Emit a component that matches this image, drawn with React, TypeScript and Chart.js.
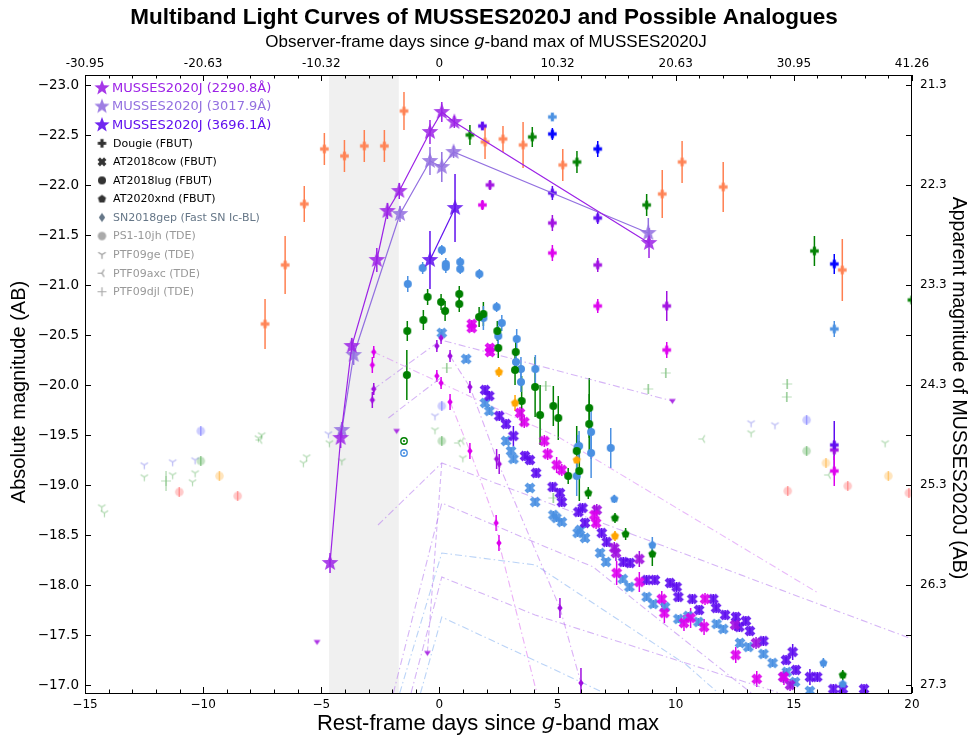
import React, { useEffect, useRef } from 'react';
import { Chart, registerables } from 'chart.js';
Chart.register(...registerables);

type P = number[];

// ---------- axes ----------
const X_MIN = -15, X_MAX = 20;
const Y_MIN = -23.1, Y_MAX = -16.92;
const OBS_FACTOR = 2.0632;
const DIST_MOD = 44.3;
const SHADE = [-4.67, -1.72];
const TOP_LABELS: Record<string, string> = { '-15': '-30.95', '-10': '-20.63', '-5': '-10.32', '0': '0', '5': '10.32', '10': '20.63', '15': '30.95', '20': '41.26' };

// ---------- MUSSES2020J ----------
const mUV1: P[] = [[-4.63, -18.22, 0.1], [-4.18, -19.47, 0.1], [-3.71, -20.39, 0.08], [-2.65, -21.25, 0.12], [-2.20, -21.74, 0.08], [-1.70, -21.94, 0.08], [-0.40, -22.53, 0.12], [0.10, -22.73, 0.1], [0.63, -22.63, 0.06], [8.87, -21.42, 0.15]];
const mUV2: P[] = [[-4.13, -19.55, 0.08], [-3.63, -20.30, 0.1], [-1.67, -21.71, 0.08], [-0.40, -22.24, 0.14], [0.10, -22.18, 0.15], [0.60, -22.33, 0.06], [8.84, -21.52, 0.15]];
const mU: P[] = [[-0.40, -21.25, 0.29], [0.66, -21.77, 0.34]];

// ---------- Dougie ----------
const dougieCoral: P[] = [[-7.38, -20.61, 0.25], [-6.53, -21.20, 0.29], [-5.72, -21.81, 0.18], [-4.87, -22.36, 0.16], [-4.02, -22.29, 0.16], [-3.18, -22.39, 0.16], [-2.33, -22.39, 0.16], [-1.50, -22.74, 0.19], [1.93, -22.43, 0.17], [2.69, -22.46, 0.13], [3.54, -22.40, 0.23], [5.22, -22.20, 0.16], [9.43, -21.91, 0.24], [10.27, -22.23, 0.21], [12.01, -21.98, 0.25], [17.05, -21.15, 0.31]];
const dougieGreen: P[] = [[1.29, -22.50, 0.1], [3.93, -22.48, 0.1], [5.82, -22.23, 0.11], [8.77, -21.80, 0.11], [15.87, -21.34, 0.15], [20.0, -20.85, 0.08]];
const dougieBlue: P[] = [[4.78, -22.51, 0.06], [6.70, -22.36, 0.08], [16.71, -21.21, 0.1]];
const dougieLBlue: P[] = [[4.78, -22.68, 0.04], [16.71, -20.56, 0.08]];
const dougieViolet: P[] = [[1.82, -22.59, 0.04], [4.78, -21.92, 0.07], [6.70, -21.67, 0.06], [16.71, -19.40, 0.24]];
const dougieDViolet: P[] = [[2.14, -22.00, 0.05], [4.78, -21.62, 0.08], [6.70, -21.20, 0.07], [9.62, -20.79, 0.15], [16.71, -19.35, 0.1]];
const dougieMagenta: P[] = [[1.82, -21.80, 0.05], [4.78, -21.32, 0.08], [6.70, -20.79, 0.07], [9.62, -20.35, 0.08], [16.71, -19.14, 0.15]];

// ---------- AT2018cow ----------
const cowLBlue: P[] = [[0.10, -20.52, 0.04], [1.13, -20.26, 0.04], [1.93, -19.82, 0.04], [2.11, -19.74, 0.04], [2.82, -19.44, 0.04], [3.03, -19.34, 0.04], [3.13, -19.26, 0.04], [3.83, -18.97, 0.04], [4.05, -18.83, 0.04], [4.82, -18.70, 0.04], [4.95, -18.67, 0.04], [5.18, -18.63, 0.04], [5.85, -18.52, 0.04], [5.95, -18.55, 0.04], [6.16, -18.47, 0.04], [6.80, -18.32, 0.04], [7.05, -18.23, 0.04], [7.76, -18.06, 0.04], [8.04, -17.98, 0.04], [8.77, -17.88, 0.04], [9.05, -17.81, 0.04], [9.55, -17.78, 0.04], [10.11, -17.66, 0.04], [10.53, -17.69, 0.04], [10.96, -17.63, 0.04], [11.73, -17.61, 0.04], [12.01, -17.56, 0.04], [12.72, -17.42, 0.04], [13.07, -17.38, 0.04], [13.71, -17.31, 0.04], [14.10, -17.22, 0.04], [14.70, -17.13, 0.04], [15.05, -17.03, 0.04], [15.68, -16.94, 0.04]];
const cowViolet: P[] = [[1.93, -19.95, 0.05], [2.11, -19.89, 0.05], [2.53, -19.69, 0.05], [2.82, -19.61, 0.05], [3.13, -19.49, 0.1], [3.62, -19.29, 0.05], [3.83, -19.25, 0.05], [4.09, -19.12, 0.05], [4.79, -18.98, 0.05], [5.10, -18.92, 0.05], [5.18, -18.83, 0.05], [5.88, -18.73, 0.05], [6.06, -18.77, 0.05], [6.16, -18.62, 0.05], [6.87, -18.52, 0.05], [7.08, -18.43, 0.05], [7.78, -18.23, 0.05], [8.07, -18.22, 0.05], [8.77, -18.05, 0.05], [9.12, -18.05, 0.05], [9.76, -18.02, 0.05], [10.04, -17.98, 0.05], [10.11, -17.88, 0.05], [10.70, -17.86, 0.05], [10.99, -17.75, 0.05], [11.59, -17.86, 0.05], [11.71, -17.77, 0.05], [12.09, -17.70, 0.05], [12.55, -17.68, 0.05], [12.69, -17.58, 0.05], [12.97, -17.64, 0.05], [13.14, -17.54, 0.05], [13.71, -17.44, 0.05], [14.67, -17.25, 0.05], [14.95, -17.33, 0.08], [15.09, -17.15, 0.05], [15.68, -17.08, 0.08], [15.99, -17.08, 0.05], [16.67, -16.96, 0.05], [17.07, -16.96, 0.05], [17.97, -16.96, 0.05]];
const cowMagenta: P[] = [[1.37, -20.61, 0.04], [1.37, -20.57, 0.04], [2.14, -20.37, 0.04], [2.14, -20.33, 0.04], [3.41, -19.72, 0.06], [3.59, -19.63, 0.06], [4.44, -19.44, 0.06], [4.58, -19.31, 0.06], [4.96, -19.20, 0.08], [5.18, -19.15, 0.06], [6.56, -18.70, 0.1], [6.63, -18.62, 0.06], [7.50, -18.12, 0.12], [8.46, -18.03, 0.1], [9.41, -17.86, 0.08], [9.52, -17.72, 0.1], [10.35, -17.62, 0.08], [10.63, -17.67, 0.1], [11.20, -17.58, 0.08], [11.24, -17.86, 0.06], [12.54, -17.30, 0.08], [13.43, -17.06, 0.08], [14.58, -17.08, 0.08]];
const cowDViolet: P[] = [[6.66, -18.75, 0.06], [7.40, -18.37, 0.06], [7.47, -18.32, 0.08], [8.46, -18.26, 0.08], [12.51, -17.60, 0.06], [13.40, -17.42, 0.06], [14.55, -17.08, 0.06], [14.84, -17.00, 0.06]];

// ---------- AT2018lug ----------
const lugLBlue: P[] = [[-1.34, -21.01, 0.08], [-0.71, -21.17, 0.06], [0.10, -21.35, 0.05], [0.27, -21.21, 0.06], [0.27, -21.18, 0.06], [0.88, -21.23, 0.05], [0.88, -21.16, 0.05], [1.69, -21.11, 0.05], [2.42, -20.78, 0.05], [2.64, -20.62, 0.08], [2.49, -20.49, 0.1], [1.86, -20.67, 0.12], [3.27, -20.46, 0.1], [3.24, -20.23, 0.08], [3.45, -20.16, 0.12], [4.06, -20.16, 0.14], [3.45, -20.03, 0.1], [6.42, -19.53, 0.27], [6.42, -19.32, 0.25], [7.25, -19.37, 0.2], [5.91, -19.39, 0.15], [5.85, -19.38, 0.12], [5.81, -19.09, 0.2]];
const lugGreen: P[] = [[-1.38, -20.10, 0.25], [-1.36, -20.54, 0.1], [-0.68, -20.65, 0.1], [-0.50, -20.88, 0.08], [0.07, -20.83, 0.08], [0.24, -20.74, 0.1], [0.84, -20.91, 0.08], [0.84, -20.81, 0.08], [1.68, -20.68, 0.1], [1.86, -20.71, 0.12], [2.45, -20.54, 0.1], [2.49, -20.37, 0.1], [3.23, -20.33, 0.15], [3.20, -20.15, 0.15], [3.48, -19.84, 0.25], [4.05, -19.98, 0.3], [4.26, -19.70, 0.3], [4.82, -19.79, 0.2], [5.03, -19.67, 0.22], [6.34, -19.77, 0.3], [6.34, -19.61, 0.3], [5.81, -19.34, 0.25], [5.92, -19.14, 0.3], [5.45, -19.09, 0.08]];

// ---------- AT2020xnd ----------
const xndOrange: P[] = [[2.52, -20.13, 0.05], [3.20, -19.82, 0.08], [5.81, -19.25, 0.2], [7.43, -18.49, 0.05]];
const xndLBlue: P[] = [[7.40, -18.86, 0.04], [9.01, -18.40, 0.08], [16.25, -17.22, 0.05], [17.07, -17.01, 0.04]];
const xndGreen: P[] = [[6.30, -18.92, 0.06], [7.43, -18.67, 0.05], [7.88, -18.51, 0.06], [9.01, -18.31, 0.12], [17.07, -17.10, 0.05]];

// ---------- SN2018gep ----------
const gepMagenta: P[] = [[-2.78, -20.33, 0.06], [-2.84, -20.20, 0.08], [0.07, -20.02, 0.06], [-0.11, -20.09, 0.06], [0.45, -19.83, 0.08], [1.29, -19.34, 0.08], [2.40, -18.62, 0.08], [2.52, -18.42, 0.08]];
const gepDViolet: P[] = [[-2.78, -19.96, 0.06], [-2.84, -19.85, 0.08], [-0.11, -20.39, 0.06], [0.07, -20.47, 0.06], [0.45, -20.29, 0.06], [1.29, -19.98, 0.06], [2.42, -19.26, 0.1], [2.53, -19.21, 0.1], [5.10, -17.77, 0.1], [5.99, -17.02, 0.15]];
const gepLimits: P[] = [[-5.18, -17.43], [-1.81, -19.54], [-0.51, -17.32], [9.86, -19.84]];
const openGreen: P[] = [[-1.50, -19.44]];
const openBlue: P[] = [[-1.50, -19.32]];

// ---------- dash-dot curves ----------
const ddL1: P[] = [[-2.78, -19.96], [0.07, -20.45], [9.86, -19.84]];
const ddL2: P[] = [[-2.78, -20.33], [5.11, -19.47], [15.96, -17.93]];
const ddL3: P[] = [[-2.16, -19.67], [0.05, -20.07]];
const ddD1: P[] = [[-2.6, -18.6], [0.1, -19.22], [20.0, -17.46]];
const ddD6: P[] = [[0.1, -19.22], [-0.51, -17.32]];
const ddD2: P[] = [[-1.95, -16.92], [0.1, -18.82], [6.51, -18.18], [8.77, -17.75], [13.2, -16.92]];
const ddD3: P[] = [[-1.68, -16.92], [0.1, -18.32], [4.07, -18.2], [10.46, -17.2], [11.8, -16.92]];
const ddD4: P[] = [[-1.2, -16.92], [0.1, -18.08], [4.05, -17.70], [14.4, -16.92]];
const ddD5: P[] = [[-0.8, -16.92], [0.1, -17.68], [6.8, -16.94]];
const ddM1: P[] = [[0.45, -19.83], [1.29, -19.34], [2.40, -18.62], [2.52, -18.42], [4.12, -16.92]];
const ddM3: P[] = [[0.45, -20.29], [1.29, -19.98], [2.47, -19.23], [5.10, -17.77], [5.99, -17.02]];

// ---------- TDEs ----------
const ps1Blue: P[] = [[-10.10, -19.54, 0.05], [0.10, -19.79, 0.05], [15.54, -19.65, 0.05]];
const ps1Green: P[] = [[-10.10, -19.24, 0.05], [0.10, -19.44, 0.05], [15.54, -19.34, 0.05]];
const ps1Orange: P[] = [[-9.31, -19.09, 0.05], [16.36, -19.22, 0.05], [19.0, -19.09, 0.05]];
const ps1Red: P[] = [[-11.01, -18.93, 0.05], [-8.54, -18.89, 0.05], [14.74, -18.94, 0.05], [17.28, -18.99, 0.05], [19.87, -18.92, 0.05]];
const ptf09geBlue: P[] = [[-12.49, -19.20], [-11.29, -19.23], [-10.34, -19.25], [-4.70, -19.51], [-0.19, -19.69], [13.19, -19.62], [14.20, -19.60]];
const ptf09geGreen: P[] = [[-14.29, -18.78], [-14.18, -18.72], [-12.49, -19.08], [-11.29, -19.10], [-10.34, -19.12], [-10.45, -19.03], [-7.66, -19.47], [-7.52, -19.50], [-5.76, -19.22], [-5.62, -19.28], [-4.66, -19.42], [-4.13, -19.24], [-0.19, -19.55], [0.99, -19.27], [13.19, -19.52], [18.86, -19.42]];
const ptf09axc: P[] = [[-7.6, -19.45], [0.80, -19.42], [0.95, -19.44], [11.14, -19.46], [16.46, -19.10]];
const ptf09djl: P[] = [[-11.57, -19.04, 0.1], [0.31, -20.17, 0.05], [4.50, -19.99, 0.05], [4.82, -18.87, 0.05], [8.84, -19.96, 0.05], [9.58, -20.12, 0.05], [14.72, -20.01, 0.05], [14.70, -19.88, 0.05]];

// ---------- legend ----------
const LEG_MUSSES = ['MUSSES2020J (2290.8Å)', 'MUSSES2020J (3017.9Å)', 'MUSSES2020J (3696.1Å)'];
const LEG_OTHERS = ['Dougie (FBUT)', 'AT2018cow (FBUT)', 'AT2018lug (FBUT)', 'AT2020xnd (FBUT)', 'SN2018gep (Fast SN Ic-BL)', 'PS1-10jh (TDE)', 'PTF09ge (TDE)', 'PTF09axc (TDE)', 'PTF09djl (TDE)'];

// ---------- colours ----------
const C_UV1 = '#9c22e6';
const C_UV2 = '#9370e0';
const C_U = '#6010ee';
const C_CORAL = '#ff7f50';
const C_GREEN = '#008000';
const C_BLUE = '#0000ff';
const C_LBLUE = '#4a90e2';
const C_VIOLET = '#5e0cf0';
const C_DVIOLET = '#a010e0';
const C_MAGENTA = '#dd00ee';
const C_ORANGE = '#ffa500';

const SANS = '"Liberation Sans", Arial, sans-serif';
const DJ = '"DejaVu Sans", sans-serif';

function makeMarker(shape: string, color: string, r: number, alpha = 1): HTMLCanvasElement {
  const s = Math.ceil(2 * r + 4);
  const c = document.createElement('canvas');
  c.width = s; c.height = s;
  const g = c.getContext('2d') as CanvasRenderingContext2D;
  g.translate(s / 2, s / 2);
  g.globalAlpha = alpha;
  g.fillStyle = color; g.strokeStyle = color; g.lineWidth = 1;
  const poly = (pts: number[][]) => {
    g.beginPath();
    pts.forEach((p, i) => (i ? g.lineTo(p[0], p[1]) : g.moveTo(p[0], p[1])));
    g.closePath(); g.fill();
  };
  const rays = (pts: number[][], lw = 1.2) => {
    g.lineWidth = lw; g.beginPath();
    pts.forEach((p) => { g.moveTo(0, 0); g.lineTo(p[0], p[1]); });
    g.stroke();
  };
  if (shape === 'star') {
    const pts: number[][] = [];
    for (let i = 0; i < 10; i++) {
      const a = -Math.PI / 2 + (i * Math.PI) / 5;
      const rr = i % 2 ? r * 0.42 : r;
      pts.push([rr * Math.cos(a), rr * Math.sin(a)]);
    }
    poly(pts);
  } else if (shape === 'plus' || shape === 'x') {
    if (shape === 'x') g.rotate(Math.PI / 4);
    const a = r * 0.38;
    poly([[-a, -r], [a, -r], [a, -a], [r, -a], [r, a], [a, a], [a, r], [-a, r], [-a, a], [-r, a], [-r, -a], [-a, -a]]);
  } else if (shape === 'circle') {
    g.beginPath(); g.arc(0, 0, r, 0, Math.PI * 2); g.fill();
  } else if (shape === 'pentagon') {
    const pts: number[][] = [];
    for (let i = 0; i < 5; i++) {
      const a = -Math.PI / 2 + (i * 2 * Math.PI) / 5;
      pts.push([r * Math.cos(a), r * Math.sin(a)]);
    }
    poly(pts);
  } else if (shape === 'diamond') {
    poly([[0, -r], [r * 0.7, 0], [0, r], [-r * 0.7, 0]]);
  } else if (shape === 'vtri') {
    poly([[-r, -r * 0.6], [r, -r * 0.6], [0, r * 0.9]]);
  } else if (shape === 'tridown') {
    rays([[0, r], [-r * 0.866, -r * 0.5], [r * 0.866, -r * 0.5]]);
  } else if (shape === 'trileft') {
    rays([[-r, 0], [r * 0.5, -r * 0.866], [r * 0.5, r * 0.866]]);
  } else if (shape === 'plusthin') {
    rays([[r, 0], [-r, 0], [0, r], [0, -r]]);
  } else if (shape === 'circledot') {
    g.lineWidth = 1.4; g.beginPath(); g.arc(0, 0, r - 0.8, 0, Math.PI * 2); g.stroke();
    g.beginPath(); g.arc(0, 0, r * 0.28, 0, Math.PI * 2); g.fill();
  }
  return c;
}

const pts = (a: P[]) => a.map((p) => ({ x: p[0], y: p[1] }));
const errs = (a: P[]) => a.map((p) => (p.length > 2 ? p[2] : 0));

function mds(arr: P[], shape: string, color: string, r: number, alpha = 1, errColor?: string): any {
  return {
    data: pts(arr), errs: errs(arr), errColor: errColor || color,
    pointStyle: makeMarker(shape, color, r, alpha), pointRadius: r, showLine: false,
  };
}
function starDs(arr: P[], color: string): any {
  return {
    data: pts(arr), errs: errs(arr), errColor: color,
    pointStyle: makeMarker('star', color, 8.8, 0.85), pointRadius: 8,
    showLine: true, borderColor: color, borderWidth: 1.2, tension: 0,
  };
}
function ddDs(arr: P[], color: string, dash: number[] = [7, 3, 1.5, 3]): any {
  return { data: pts(arr), showLine: true, borderColor: color, borderWidth: 1.1, borderDash: dash, pointRadius: 0, tension: 0 };
}

function drawRuns(ctx: CanvasRenderingContext2D, runs: [string, string][], cx: number, cy: number, rot = 0) {
  ctx.save();
  ctx.translate(cx, cy); ctx.rotate(rot);
  let total = 0;
  runs.forEach(([t, f]) => { ctx.font = f; total += ctx.measureText(t).width; });
  let x = -total / 2;
  ctx.textBaseline = 'middle'; ctx.textAlign = 'left'; ctx.fillStyle = '#000';
  runs.forEach(([t, f]) => { ctx.font = f; ctx.fillText(t, x, 0); x += ctx.measureText(t).width; });
  ctx.restore();
}

function buildDecor(legendMarkers: { mk: HTMLCanvasElement; color: string; text: string; font: string; y: number; tx: number }[]) {
  return {
    id: 'decor',
    beforeDatasetsDraw(chart: any) {
      const { ctx, chartArea: a, scales } = chart;
      const xs = scales.x, ys = scales.y;
      ctx.save();
      ctx.beginPath(); ctx.rect(a.left, a.top, a.right - a.left, a.bottom - a.top); ctx.clip();
      const x0 = xs.getPixelForValue(SHADE[0]), x1 = xs.getPixelForValue(SHADE[1]);
      ctx.fillStyle = '#f0f0f0';
      ctx.fillRect(x0, a.top, x1 - x0, a.bottom - a.top);
      chart.data.datasets.forEach((ds: any) => {
        const e = ds.errs; if (!e) return;
        ctx.strokeStyle = ds.errColor; ctx.lineWidth = 1.5;
        ds.data.forEach((p: any, j: number) => {
          if (!e[j]) return;
          const px = xs.getPixelForValue(p.x);
          ctx.beginPath();
          ctx.moveTo(px, ys.getPixelForValue(p.y - e[j]));
          ctx.lineTo(px, ys.getPixelForValue(p.y + e[j]));
          ctx.stroke();
        });
      });
      ctx.restore();
    },
    afterDraw(chart: any) {
      const { ctx, chartArea: a, scales } = chart;
      const xs = scales.x, ys = scales.y;
      ctx.save();
      ctx.strokeStyle = '#000'; ctx.lineWidth = 1;
      ctx.strokeRect(a.left + 0.5, a.top + 0.5, a.right - a.left - 1, a.bottom - a.top);
      ctx.beginPath();
      for (let v = X_MIN; v <= X_MAX; v += 1) {
        const px = Math.round(xs.getPixelForValue(v)) + 0.5;
        const len = v % 5 === 0 ? 6 : 3.5;
        ctx.moveTo(px, a.bottom); ctx.lineTo(px, a.bottom - len);
        ctx.moveTo(px, a.top); ctx.lineTo(px, a.top + len);
      }
      for (let v = -23; v <= -17 + 1e-9; v += 0.5) {
        const py = Math.round(ys.getPixelForValue(v)) + 0.5;
        ctx.moveTo(a.left, py); ctx.lineTo(a.left + 6, py);
        ctx.moveTo(a.right, py); ctx.lineTo(a.right - 6, py);
      }
      ctx.stroke();

      // legend
      legendMarkers.forEach((L) => {
        ctx.drawImage(L.mk, 102 - L.mk.width / 2, L.y - L.mk.height / 2);
        ctx.font = L.font; ctx.fillStyle = L.color; ctx.textAlign = 'left'; ctx.textBaseline = 'middle';
        ctx.fillText(L.text, L.tx, L.y + 0.5);
      });

      // titles
      ctx.fillStyle = '#000'; ctx.textAlign = 'center'; ctx.textBaseline = 'middle';
      ctx.font = `bold 22.5px ${SANS}`;
      ctx.fillText('Multiband Light Curves of MUSSES2020J and Possible Analogues', 484, 18);
      drawRuns(ctx, [['Observer-frame days since ', `17px ${SANS}`], ['g', `italic 16.5px ${DJ}`], ['-band max of MUSSES2020J', `17px ${SANS}`]], 486, 42);
      drawRuns(ctx, [['Rest-frame days since ', `22px ${SANS}`], ['g', `italic 21px ${DJ}`], ['-band max', `22px ${SANS}`]], 488, 724);
      drawRuns(ctx, [['Absolute magnitude (AB)', `20px ${SANS}`]], 19, 392, -Math.PI / 2);
      drawRuns(ctx, [['Apparent magnitude of MUSSES2020J (AB)', `19.5px ${SANS}`]], 958, 388, Math.PI / 2);
      ctx.restore();
    },
  };
}

export default function App() {
  const ref = useRef<HTMLCanvasElement>(null);
  useEffect(() => {
    if (!ref.current) return;
    const tdeA = 0.3;
    const ddV = 'rgba(185,130,240,0.6)';
    const ddB = 'rgba(130,175,240,0.55)';
    const datasets: any[] = [
      starDs(mUV1, C_UV1),
      starDs(mUV2, C_UV2),
      starDs(mU, C_U),
      mds(gepMagenta, 'diamond', C_MAGENTA, 3.8),
      mds(gepDViolet, 'diamond', C_DVIOLET, 3.8),
      mds(gepLimits, 'vtri', C_DVIOLET, 3.4, 0.85),
      mds(openGreen, 'circledot', C_GREEN, 4),
      mds(openBlue, 'circledot', C_LBLUE, 4),
      mds(dougieCoral, 'plus', C_CORAL, 4.3, 0.9),
      mds(dougieGreen, 'plus', C_GREEN, 4.3, 0.95),
      mds(dougieBlue, 'plus', C_BLUE, 4.3, 0.95),
      mds(dougieLBlue, 'plus', C_LBLUE, 4.3, 0.95),
      mds(dougieViolet, 'plus', C_VIOLET, 4.3, 0.95),
      mds(dougieDViolet, 'plus', C_DVIOLET, 4.3, 0.95),
      mds(dougieMagenta, 'plus', C_MAGENTA, 4.3, 0.95),
      mds(xndOrange, 'pentagon', C_ORANGE, 4.3),
      mds(xndGreen, 'pentagon', C_GREEN, 4.3),
      mds(xndLBlue, 'pentagon', C_LBLUE, 4.3),
      mds(lugGreen, 'circle', C_GREEN, 4),
      mds(lugLBlue, 'circle', C_LBLUE, 4),
      mds(cowMagenta, 'x', C_MAGENTA, 5.6, 0.9),
      mds(cowDViolet, 'x', C_DVIOLET, 5.6, 0.9),
      mds(cowViolet, 'x', C_VIOLET, 5.6, 0.9),
      mds(cowLBlue, 'x', C_LBLUE, 5.6, 0.9),
      ddDs(ddM1, 'rgba(220,110,240,0.55)'),
      ddDs(ddM3, 'rgba(190,110,240,0.55)'),
      ddDs(ddL1, ddV),
      ddDs(ddL2, 'rgba(215,130,245,0.55)'),
      ddDs(ddL3, ddV),
      ddDs(ddD1, ddV),
      ddDs(ddD6, ddV, [5, 3]),
      ddDs(ddD2, ddV),
      ddDs(ddD3, ddB),
      ddDs(ddD4, ddV),
      ddDs(ddD5, ddB),
      mds(ps1Blue, 'circle', 'rgb(90,90,255)', 4.3, tdeA, 'rgba(90,90,255,0.45)'),
      mds(ps1Green, 'circle', 'rgb(60,160,60)', 4.3, tdeA, 'rgba(60,160,60,0.45)'),
      mds(ps1Orange, 'circle', 'rgb(255,170,40)', 4.3, tdeA, 'rgba(255,170,40,0.5)'),
      mds(ps1Red, 'circle', 'rgb(255,80,80)', 4.3, tdeA, 'rgba(255,80,80,0.45)'),
      mds(ptf09geBlue, 'tridown', 'rgb(100,100,230)', 4.3, 0.45),
      mds(ptf09geGreen, 'tridown', 'rgb(60,160,60)', 4.3, 0.4),
      mds(ptf09axc, 'trileft', 'rgb(60,160,60)', 4.3, 0.4),
      mds(ptf09djl, 'plusthin', 'rgb(60,160,60)', 5, 0.35, 'rgba(60,160,60,0.35)'),
    ];

    const legend = [
      { mk: makeMarker('star', C_UV1, 8, 0.9), color: C_UV1, text: LEG_MUSSES[0], font: `13px ${DJ}`, y: 88, tx: 112 },
      { mk: makeMarker('star', C_UV2, 8, 0.9), color: C_UV2, text: LEG_MUSSES[1], font: `13px ${DJ}`, y: 106.5, tx: 112 },
      { mk: makeMarker('star', C_U, 8, 0.9), color: C_U, text: LEG_MUSSES[2], font: `13px ${DJ}`, y: 125, tx: 112 },
    ];
    const otherMk = [
      makeMarker('plus', '#333', 4.2), makeMarker('x', '#333', 4.6), makeMarker('circle', '#333', 4),
      makeMarker('pentagon', '#333', 4.3), makeMarker('diamond', '#667788', 4.6), makeMarker('circle', '#aaaaaa', 4.2),
      makeMarker('tridown', '#999999', 4.3), makeMarker('trileft', '#999999', 4.3), makeMarker('plusthin', '#aaaaaa', 4.5),
    ];
    const otherCol = ['#000', '#000', '#000', '#000', '#667788', '#999', '#999', '#999', '#999'];
    LEG_OTHERS.forEach((t, i) => {
      legend.push({ mk: otherMk[i], color: otherCol[i], text: t, font: `11px ${DJ}`, y: 143.3 + i * 18.55, tx: 113 });
    });

    const tickFont = { family: '"DejaVu Sans", sans-serif', size: 12 };
    const minus = (s: string) => s.replace('-', '\u2212');

    const chart = new Chart(ref.current, {
      type: 'scatter',
      data: { datasets },
      options: {
        responsive: false,
        animation: false,
        events: [],
        layout: { padding: 0 },
        plugins: { legend: { display: false }, tooltip: { enabled: false }, title: { display: false } },
        scales: {
          x: {
            type: 'linear', position: 'bottom', min: X_MIN, max: X_MAX,
            grid: { display: false, drawTicks: false }, border: { display: false },
            ticks: { stepSize: 5, padding: 5, color: '#000', font: tickFont, callback: (v: any) => minus(String(v)) },
            afterFit: (s: any) => { s.height = 49; },
          },
          x2: {
            type: 'linear', position: 'top', min: X_MIN, max: X_MAX,
            grid: { display: false, drawTicks: false }, border: { display: false },
            ticks: { stepSize: 5, padding: 4, color: '#000', font: { family: '"DejaVu Sans", sans-serif', size: 12 }, callback: (v: any) => TOP_LABELS[String(v)] ?? (v * OBS_FACTOR).toFixed(2) },
            afterFit: (s: any) => { s.height = 75; },
          },
          y: {
            type: 'linear', position: 'left', min: Y_MIN, max: Y_MAX, reverse: true,
            grid: { display: false, drawTicks: false }, border: { display: false },
            ticks: { stepSize: 0.5, includeBounds: false, padding: 6, color: '#000', font: { family: '"DejaVu Sans", sans-serif', size: 13.5 }, callback: (v: any) => minus(Number(v).toFixed(1)) },
            afterFit: (s: any) => { s.width = 85; },
          },
          y2: {
            type: 'linear', position: 'right', min: Y_MIN, max: Y_MAX, reverse: true,
            grid: { display: false, drawTicks: false }, border: { display: false },
            ticks: {
              stepSize: 0.5, includeBounds: false, padding: 8, color: '#000', font: tickFont,
              callback: (v: any) => (Math.abs(v - Math.round(v)) < 1e-6 ? (Number(v) + DIST_MOD).toFixed(1) : ''),
            },
            afterFit: (s: any) => { s.width = 62; },
          },
        },
      } as any,
      plugins: [buildDecor(legend) as any],
    });
    return () => chart.destroy();
  }, []);
  return (
    <div style={{ position: 'fixed', left: 0, top: 0, width: 974, height: 742, background: '#fff' }}>
      <canvas ref={ref} width={974} height={742} style={{ display: 'block' }} />
    </div>
  );
}
